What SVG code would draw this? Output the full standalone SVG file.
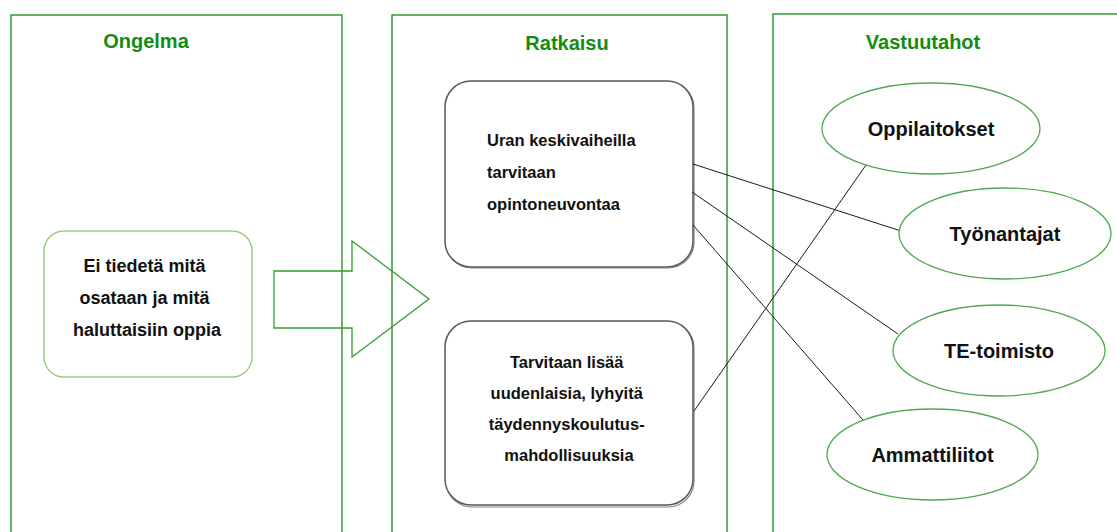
<svg xmlns="http://www.w3.org/2000/svg" width="1117" height="532" viewBox="0 0 1117 532">
  <style>
    .panel { fill: none; stroke: #138a13; stroke-width: 1.3; }
    .title { font-family: "Liberation Sans", Arial, sans-serif; font-weight: bold; font-size: 20px; fill: #128c12; text-anchor: middle; }
    .txt { font-family: "Liberation Sans", Arial, sans-serif; font-weight: bold; fill: #111; }
    .box { fill: #fff; stroke: #5a5a5a; stroke-width: 1.5; }
    .shadow { fill: none; stroke: #222; stroke-width: 1.2; opacity: 0.55; }
    .ell { fill: #fff; stroke: #4fa84f; stroke-width: 1.3; }
    .conn { stroke: #1a1a1a; stroke-width: 1; fill: none; }
  </style>

  <rect width="1117" height="532" fill="#fff"/>

  <!-- three column panels -->
  <g id="panel-ongelma">
    <rect class="panel" x="11" y="15" width="331" height="530"/>
    <text class="title" x="146" y="48">Ongelma</text>
  </g>
  <g id="panel-ratkaisu">
    <rect class="panel" x="392" y="15" width="335" height="530"/>
    <text class="title" x="567" y="50">Ratkaisu</text>
  </g>
  <g id="panel-vastuutahot">
    <rect class="panel" x="773" y="14" width="360" height="530"/>
    <text class="title" x="923" y="49">Vastuutahot</text>
  </g>

  <!-- problem box -->
  <g id="node-problem">
    <rect x="44" y="231" width="208" height="146" rx="20" ry="20" fill="#fff" stroke="#9ccb7e" stroke-width="1.4"/>
    <text class="txt" font-size="18" text-anchor="middle">
      <tspan x="147" y="272">Ei tiedetä mitä</tspan>
      <tspan x="147" y="304">osataan ja mitä</tspan>
      <tspan x="147" y="336">haluttaisiin oppia</tspan>
    </text>
  </g>

  <!-- block arrow from problem to solutions -->
  <g id="node-arrow">
    <polygon points="274,271 352,271 352,241 429,299 352,357 352,328 274,328" fill="none" stroke="#2e9e2e" stroke-width="1.3"/>
  </g>

  <!-- solution boxes -->
  <g id="node-solution-1">
    <rect class="shadow" x="446" y="82" width="248" height="186" rx="26" ry="26"/>
    <rect class="box" x="445" y="81" width="248" height="186" rx="26" ry="26"/>
    <text class="txt" font-size="16.5">
      <tspan x="487" y="146">Uran keskivaiheilla</tspan>
      <tspan x="487" y="178">tarvitaan</tspan>
      <tspan x="487" y="210">opintoneuvontaa</tspan>
    </text>
  </g>
  <g id="node-solution-2">
    <rect class="shadow" x="446" y="322" width="248" height="185" rx="26" ry="26"/>
    <rect class="box" x="445" y="321" width="248" height="184" rx="26" ry="26"/>
    <text class="txt" font-size="16.5" text-anchor="middle">
      <tspan x="569" y="368">Tarvitaan lisää</tspan>
      <tspan x="569" y="399">uudenlaisia, lyhyitä</tspan>
      <tspan x="569" y="430">täydennyskoulutus-</tspan>
      <tspan x="569" y="461">mahdollisuuksia</tspan>
    </text>
  </g>

  <!-- connectors -->
  <g id="connectors">
    <line class="conn" x1="693" y1="164" x2="901" y2="231"/>
    <line class="conn" x1="692" y1="192" x2="898" y2="334"/>
    <line class="conn" x1="693" y1="225" x2="863" y2="420"/>
    <line class="conn" x1="694" y1="411" x2="866" y2="165"/>
  </g>

  <!-- responsible parties -->
  <g id="node-oppilaitokset">
    <ellipse class="ell" cx="931" cy="128.5" rx="109" ry="45.5" fill-opacity="0"/>
    <text class="txt" font-size="20" text-anchor="middle" x="931" y="136">Oppilaitokset</text>
  </g>
  <g id="node-tyonantajat">
    <ellipse class="ell" cx="1005" cy="233.5" rx="106" ry="45.5"/>
    <text class="txt" font-size="20" text-anchor="middle" x="1005" y="241">Työnantajat</text>
  </g>
  <g id="node-te-toimisto">
    <ellipse class="ell" cx="999" cy="350.5" rx="106" ry="45.5"/>
    <text class="txt" font-size="20" text-anchor="middle" x="999" y="358">TE-toimisto</text>
  </g>
  <g id="node-ammattiliitot">
    <ellipse class="ell" cx="932.5" cy="454.5" rx="105.5" ry="45.5"/>
    <text class="txt" font-size="20" text-anchor="middle" x="932.5" y="462">Ammattiliitot</text>
  </g>
</svg>
